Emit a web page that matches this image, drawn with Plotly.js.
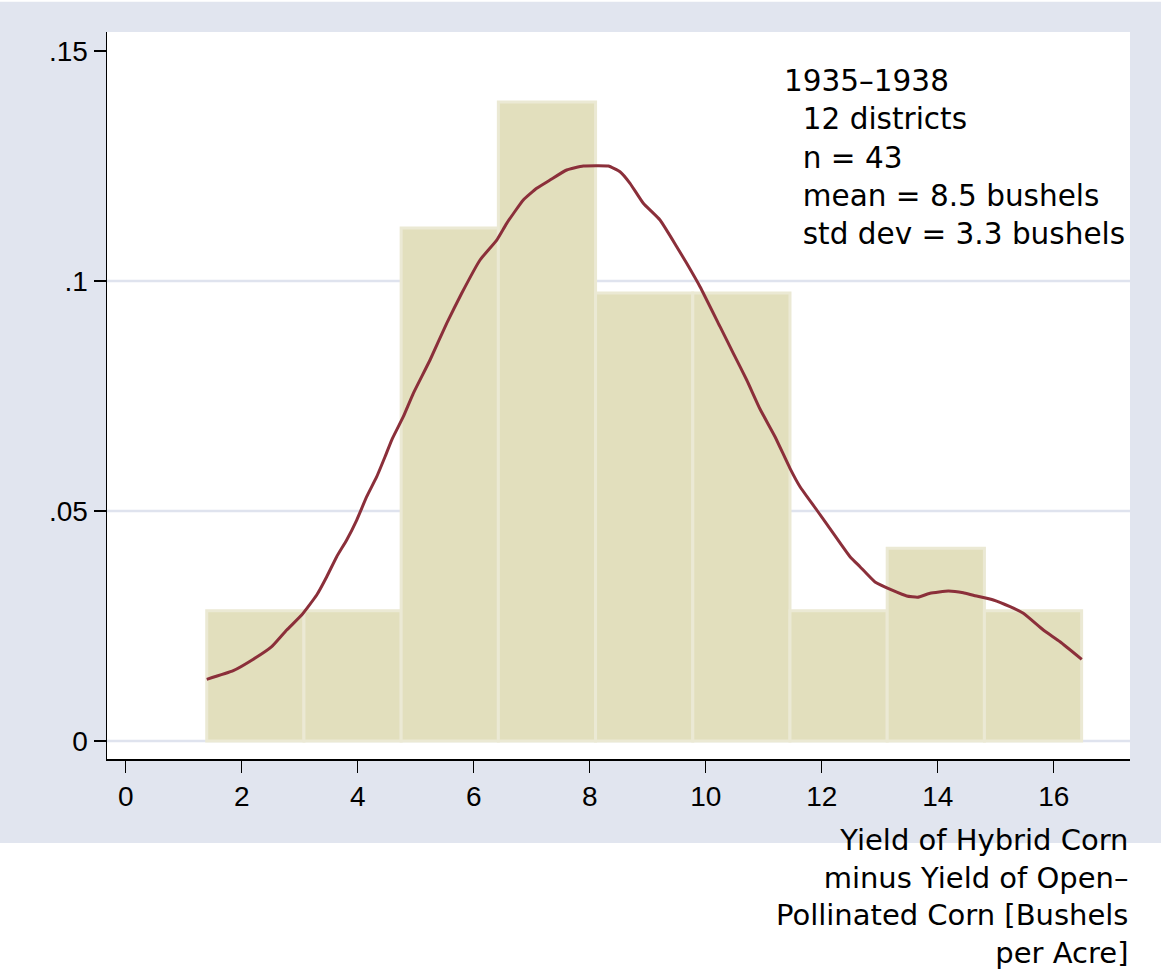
<!DOCTYPE html>
<html>
<head>
<meta charset="utf-8">
<script src="https://cdn.plot.ly/plotly-3.0.1.min.js"></script>
<style>
  html, body { margin: 0; padding: 0; background: #ffffff; }
  #chart { width: 1161px; height: 973px; }
</style>
</head>
<body>
<div id="chart"></div>
<script>
// ---- data ----
const binCenters = [2.235, 3.911, 5.587, 7.263, 8.939, 10.615, 12.291, 13.967, 15.643];
const binWidth = 1.676;
const densities = [0.0283, 0.0283, 0.1115, 0.1389, 0.0974, 0.0974, 0.0283, 0.0419, 0.0283];

const kdeX = [1.397, 1.855, 2.200, 2.517, 2.776, 3.034, 3.293, 3.466, 3.638, 3.810,
  3.983, 4.155, 4.328, 4.471, 4.586, 4.786, 4.959, 5.247, 5.534, 5.793,
  6.109, 6.397, 6.569, 6.855, 7.086, 7.316, 7.603, 7.890, 8.321, 8.522,
  8.695, 8.924, 9.212, 9.500, 9.672, 9.902, 10.247, 10.476, 10.707, 10.936,
  11.195, 11.453, 11.626, 11.914, 12.200, 12.488, 12.660, 12.919, 13.234, 13.466,
  13.652, 13.867, 14.183, 14.441, 14.614, 14.959, 15.247, 15.476, 15.821, 16.109, 16.483];
const kdeY = [0.01341, 0.01528, 0.01776, 0.02050, 0.02413, 0.02739, 0.03174, 0.03572, 0.04007, 0.04370,
  0.04804, 0.05311, 0.05746, 0.06180, 0.06543, 0.07050, 0.07559, 0.08283, 0.09080, 0.09733,
  0.10457, 0.10891, 0.11254, 0.11761, 0.12015, 0.12196, 0.12413, 0.12500, 0.12500, 0.12376,
  0.12124, 0.11689, 0.11326, 0.10746, 0.10385, 0.09876, 0.09007, 0.08428, 0.07848, 0.07217,
  0.06615, 0.05928, 0.05528, 0.05022, 0.04515, 0.04007, 0.03789, 0.03457, 0.03267, 0.03152,
  0.03124, 0.03211, 0.03261, 0.03224, 0.03167, 0.03065, 0.02920, 0.02776, 0.02413, 0.02159, 0.01776];

const xTickVals = [0, 2, 4, 6, 8, 10, 12, 14, 16];
const yTickVals = [0, 0.05, 0.1, 0.15];
const yTickText = ["0", ".05", ".1", ".15"];
const gridVals = [0, 0.05, 0.1];

const noteLines = ["1935\u20131938", "\u00a0\u00a012 districts", "\u00a0\u00a0n = 43",
  "\u00a0\u00a0mean = 8.5 bushels", "\u00a0\u00a0std dev = 3.3 bushels"];
const xTitleLines = ["Yield of Hybrid Corn", "minus Yield of Open\u2013",
  "Pollinated Corn [Bushels", "per Acre]"];

// ---- styles ----
const BG = "#e1e5ef";
const GRID = "#dfe3ee";
const BAR_FILL = "#e2dfbd";
const BAR_LINE = "#ebe9d4";
const CURVE = "#8b2f3a";
const TEXT_FONT = "DejaVu Sans, sans-serif";
const TICK_FONT = "Liberation Sans, Arial, sans-serif";

const traces = [
  {
    type: "bar",
    x: binCenters,
    y: densities,
    width: binCenters.map(() => binWidth),
    marker: { color: BAR_FILL, line: { color: BAR_LINE, width: 3 } },
    hoverinfo: "skip",
    showlegend: false
  },
  {
    type: "scatter",
    mode: "lines",
    x: kdeX,
    y: kdeY,
    line: { color: CURVE, width: 3, shape: "spline", smoothing: 0.4 },
    hoverinfo: "skip",
    showlegend: false
  }
];

const shapes = [
  // white band below the coloured graph region
  { type: "rect", xref: "paper", yref: "paper", x0: -0.2, x1: 1.1, y0: -0.32, y1: -0.1155,
    fillcolor: "#ffffff", line: { width: 0 }, layer: "below" },
  // thin white strip at very top
  { type: "rect", xref: "paper", yref: "paper", x0: -0.2, x1: 1.1, y0: 1.0415, y1: 1.06,
    fillcolor: "#ffffff", line: { width: 0 }, layer: "below" }
];
gridVals.forEach(v => shapes.push({
  type: "line", xref: "paper", yref: "y", x0: 0, x1: 1, y0: v, y1: v,
  line: { color: GRID, width: 2.5 }, layer: "below"
}));

const layout = {
  width: 1161,
  height: 973,
  margin: { l: 107, r: 31, t: 32, b: 214, pad: 0 },
  paper_bgcolor: BG,
  plot_bgcolor: "#ffffff",
  bargap: 0,
  xaxis: {
    range: [-0.3224, 17.315],
    tickvals: xTickVals,
    ticktext: xTickVals.map(String),
    ticks: "outside",
    ticklen: 12,
    tickwidth: 1.5,
    tickcolor: "#000000",
    showgrid: false,
    zeroline: false,
    showline: true,
    linecolor: "#000000",
    linewidth: 1.5,
    tickfont: { family: TICK_FONT, size: 28, color: "#000000" },
    fixedrange: true
  },
  yaxis: {
    range: [-0.00391, 0.15413],
    tickvals: yTickVals,
    ticktext: yTickText,
    ticks: "outside",
    ticklen: 12,
    tickwidth: 1.5,
    tickcolor: "#000000",
    showgrid: false,
    zeroline: false,
    showline: true,
    linecolor: "#000000",
    linewidth: 1.5,
    tickfont: { family: TICK_FONT, size: 28, color: "#000000" },
    fixedrange: true
  },
  shapes: shapes,
  annotations: [
    {
      xref: "paper", yref: "paper", x: 0.6599, y: 0.9587,
      xanchor: "left", yanchor: "top", align: "left",
      text: noteLines.join("<br>"),
      showarrow: false,
      font: { family: TEXT_FONT, size: 29.5, color: "#000000" }
    },
    {
      xref: "paper", yref: "paper", x: 1, y: -0.0855,
      xanchor: "right", yanchor: "top", align: "right",
      text: xTitleLines.join("<br>"),
      showarrow: false,
      font: { family: TEXT_FONT, size: 29, color: "#000000" }
    }
  ]
};

Plotly.newPlot("chart", traces, layout, { displayModeBar: false, staticPlot: true });
</script>
</body>
</html>
